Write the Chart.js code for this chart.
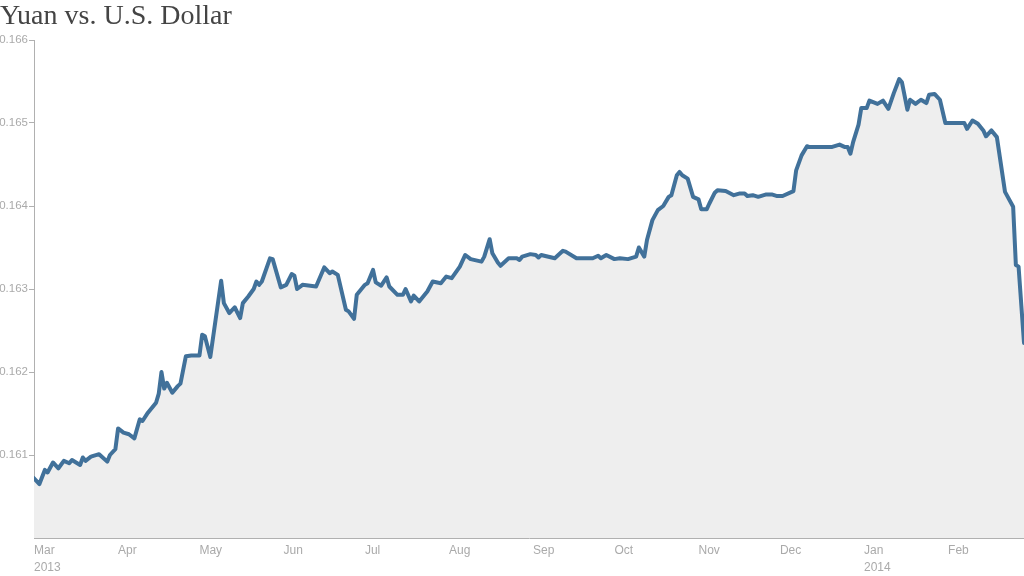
<!DOCTYPE html>
<html>
<head>
<meta charset="utf-8">
<script src="https://cdn.jsdelivr.net/npm/chart.js@4/dist/chart.umd.min.js"></script>
<style>
  html, body { margin: 0; padding: 0; background: #fff; }
  #wrap { width: 1024px; height: 576px; position: relative; }
</style>
</head>
<body>
<div id="wrap"><canvas id="c"></canvas></div>
<script>
// Days since 2013-03-01
const dayOffsets = [
  0, 2, 4, 5, 7, 9, 11, 13, 14, 17, 18, 19, 21, 24, 27, 28, 30, 31, 33, 35,
  37, 39, 40, 42, 45, 46, 47, 48, 49, 51, 53, 54, 56, 58, 61, 62, 63, 65, 69, 70,
  72, 74, 76, 77, 79, 81, 82, 83, 84, 87, 88, 91, 93, 95, 96, 97, 99, 104, 107, 109,
  110, 112, 115, 116, 118, 119, 122, 123, 125, 126, 128, 130, 131, 134, 136, 137, 139, 140, 142, 145,
  147, 150, 152, 154, 157, 159, 161, 165, 166, 168, 169, 171, 172, 175, 178, 179, 180, 183, 185, 186,
  187, 192, 195, 196, 200, 201, 206, 208, 209, 211, 214, 216, 219, 222, 223, 225, 226, 228, 230, 232,
  234, 235, 237, 238, 239, 241, 243, 245, 246, 248, 249, 251, 252, 255, 258, 260, 262, 263, 265, 267,
  270, 272, 274, 276, 280, 281, 283, 285, 286, 290, 292, 294, 297, 299, 300, 301, 302, 304, 305, 307,
  308, 311, 313, 315, 317, 319, 320, 322, 323, 325, 327, 329, 330, 332, 334, 336, 339, 343, 344, 346,
  348, 350, 351, 353, 355, 358, 361, 362, 363, 365
];
// U.S. dollars per yuan
const rates = [
  0.16072, 0.16065, 0.16082, 0.16079, 0.16091, 0.16084, 0.16093, 0.16090, 0.16094, 0.16088,
  0.16097, 0.16093, 0.16098, 0.16101, 0.16092, 0.16100, 0.16107, 0.16132, 0.16127, 0.16125,
  0.16120, 0.16143, 0.16141, 0.16151, 0.16163, 0.16174, 0.16200, 0.16180, 0.16187, 0.16175,
  0.16183, 0.16186, 0.16219, 0.16220, 0.16220, 0.16245, 0.16243, 0.16218, 0.16310, 0.16283,
  0.16271, 0.16278, 0.16265, 0.16283, 0.16291, 0.16300, 0.16309, 0.16305, 0.16309, 0.16337,
  0.16336, 0.16302, 0.16305, 0.16318, 0.16316, 0.16300, 0.16305, 0.16303, 0.16326, 0.16319,
  0.16321, 0.16317, 0.16275, 0.16273, 0.16264, 0.16293, 0.16305, 0.16307, 0.16323, 0.16308,
  0.16304, 0.16314, 0.16303, 0.16293, 0.16293, 0.16300, 0.16285, 0.16292, 0.16285, 0.16297,
  0.16309, 0.16307, 0.16315, 0.16313, 0.16327, 0.16341, 0.16336, 0.16333, 0.16339, 0.16360,
  0.16343, 0.16332, 0.16328, 0.16337, 0.16337, 0.16335, 0.16339, 0.16342, 0.16341, 0.16338,
  0.16341, 0.16337, 0.16346, 0.16345, 0.16337, 0.16337, 0.16337, 0.16340, 0.16337, 0.16341,
  0.16336, 0.16337, 0.16336, 0.16339, 0.16350, 0.16339, 0.16359, 0.16383, 0.16395, 0.16400,
  0.16411, 0.16413, 0.16437, 0.16441, 0.16437, 0.16433, 0.16411, 0.16408, 0.16396, 0.16396,
  0.16403, 0.16416, 0.16419, 0.16418, 0.16413, 0.16415, 0.16415, 0.16412, 0.16413, 0.16411,
  0.16414, 0.16414, 0.16412, 0.16412, 0.16418, 0.16443, 0.16461, 0.16472, 0.16471, 0.16471,
  0.16471, 0.16471, 0.16474, 0.16471, 0.16471, 0.16463, 0.16477, 0.16498, 0.16518, 0.16518,
  0.16527, 0.16523, 0.16527, 0.16517, 0.16536, 0.16553, 0.16549, 0.16516, 0.16528, 0.16523,
  0.16528, 0.16524, 0.16534, 0.16535, 0.16528, 0.16500, 0.16500, 0.16500, 0.16493, 0.16503,
  0.16499, 0.16491, 0.16484, 0.16491, 0.16483, 0.16417, 0.16399, 0.16329, 0.16327, 0.16235
];
// Month tick positions (days since 2013-03-01) and labels
const monthTicks = [0, 31, 61, 92, 122, 153, 184, 214, 245, 275, 306, 337];
const monthLabels = [
  ['Mar', '2013'], 'Apr', 'May', 'Jun', 'Jul', 'Aug', 'Sep', 'Oct', 'Nov', 'Dec', ['Jan', '2014'], 'Feb'
];
const yTicks = [0.160, 0.161, 0.162, 0.163, 0.164, 0.165, 0.166];

const points = dayOffsets.map((d, i) => ({ x: d, y: rates[i] }));
const fam = "'Liberation Sans', Arial, sans-serif";
const isBase = (v) => Math.abs(v - 0.160) < 1e-9;

new Chart(document.getElementById('c'), {
  type: 'line',
  data: {
    datasets: [{
      data: points,
      borderColor: '#41719a',
      backgroundColor: '#eeeeee',
      borderWidth: 4,
      fill: 'start',
      pointRadius: 0,
      tension: 0,
      borderJoinStyle: 'round',
      borderCapStyle: 'round'
    }]
  },
  options: {
    responsive: true,
    maintainAspectRatio: false,
    animation: false,
    layout: { padding: { left: 0, right: 0, top: 0, bottom: 0 } },
    plugins: {
      legend: { display: false },
      tooltip: { enabled: false },
      title: {
        display: true,
        text: 'Yuan vs. U.S. Dollar',
        align: 'start',
        color: '#444444',
        font: { family: "'Liberation Serif', 'DejaVu Serif', serif", size: 28, weight: 'normal', lineHeight: 1.2 },
        padding: { top: 0, bottom: 6.4 }
      }
    },
    scales: {
      x: {
        type: 'linear',
        min: 0,
        max: 365,
        afterBuildTicks: (scale) => { scale.ticks = monthTicks.map(v => ({ value: v })); },
        afterFit: (scale) => { scale.height = 38; },
        grid: { display: false, drawTicks: false },
        border: { display: true, color: '#b0b0b0', width: 1 },
        ticks: {
          autoSkip: false,
          maxRotation: 0,
          align: 'start',
          padding: 4,
          color: '#aaaaaa',
          font: { family: fam, size: 12, lineHeight: 1.4 },
          callback: (v) => { const i = monthTicks.indexOf(v); return i >= 0 ? monthLabels[i] : ''; }
        }
      },
      y: {
        min: 0.160,
        max: 0.166,
        afterBuildTicks: (scale) => { scale.ticks = yTicks.map(v => ({ value: v })); },
        afterFit: (scale) => { scale.width = 34; },
        grid: {
          display: true, drawOnChartArea: false, drawTicks: true, tickLength: 5,
          color: (ctx) => (ctx.tick && isBase(ctx.tick.value) ? 'rgba(0,0,0,0)' : '#b0b0b0')
        },
        border: { display: true, color: '#b0b0b0', width: 1 },
        ticks: {
          padding: 1,
          color: '#aaaaaa',
          font: { family: fam, size: 11.5 },
          callback: (v) => (isBase(v) ? '' : v.toFixed(3))
        }
      }
    }
  }
});
</script>
</body>
</html>
